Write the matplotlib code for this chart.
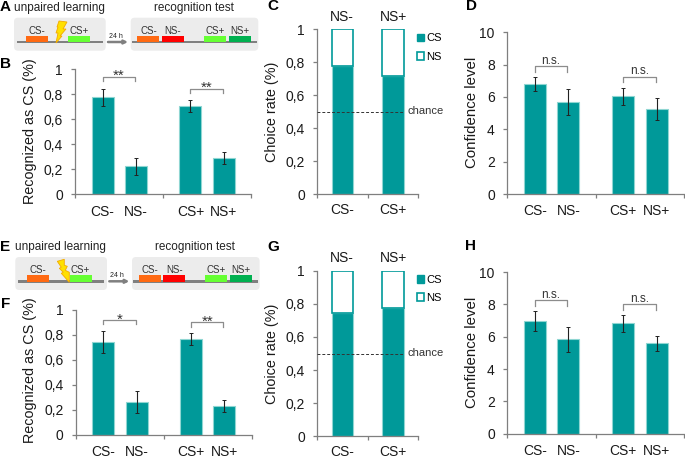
import matplotlib
matplotlib.use("Agg")
import matplotlib.pyplot as plt
from matplotlib.patches import FancyBboxPatch, Rectangle, Polygon, Patch

plt.rcParams['font.family'] = ['Liberation Sans', 'DejaVu Sans']

W, H = 685, 458
TEAL = '#009999'
EDGE = '#8fd6d2'
AXC = '#7f7f7f'

# ---- data ----
cats = ['CS-', 'NS-', 'CS+', 'NS+']
rec_ticks = ['0', '0,2', '0,4', '0,6', '0,8', '1']
conf_ticks = ['0', '2', '4', '6', '8', '10']

b_vals = [0.775, 0.225, 0.71, 0.29]
b_err = [0.066, 0.068, 0.048, 0.048]
d_vals = [6.8, 5.7, 6.05, 5.25]
d_err = [0.42, 0.8, 0.53, 0.69]
f_vals = [0.74, 0.26, 0.765, 0.23]
f_err = [0.088, 0.087, 0.048, 0.05]
h_vals = [6.95, 5.83, 6.83, 5.6]
h_err = [0.62, 0.75, 0.52, 0.47]

choice_bottom = ['CS-', 'CS+']
choice_top = ['NS-', 'NS+']
c_cs = [0.78, 0.715]
g_cs = [0.747, 0.773]
chance = 0.5

b_sig = ['**', '**']
f_sig = ['*', '**']
ns_sig = ['n.s.', 'n.s.']

fig = plt.figure(figsize=(W / 100, H / 100), dpi=100)
ov = fig.add_axes([0, 0, 1, 1], zorder=0)
ov.set_xlim(0, W)
ov.set_ylim(H, 0)
ov.axis('off')


def mk_ax(x0, x1, ytop, y0, xpad=7.5):
    ax = fig.add_axes([x0 / W, 1 - y0 / H, (x1 - x0) / W, (y0 - ytop) / H], zorder=2)
    ax.patch.set_alpha(0)
    for s in ('top', 'right'):
        ax.spines[s].set_visible(False)
    for s in ('left', 'bottom'):
        ax.spines[s].set_color(AXC)
        ax.spines[s].set_linewidth(0.9)
    ax.tick_params(axis='y', length=3, width=0.9, color=AXC, pad=6, labelsize=10, labelcolor='#1a1a1a')
    ax.tick_params(axis='x', which='major', length=3, width=0.9, color=AXC, labelbottom=False)
    ax.tick_params(axis='x', which='minor', length=0, pad=xpad, labelsize=10, labelcolor='#1a1a1a')
    return ax


def grouped(box, vals, errs, ymax, ticks, sig, br_tops, sig_size, sig_off):
    ax = mk_ax(*box)
    pos = [0.31, 0.69, 1.31, 1.69]
    ax.bar(pos, vals, width=0.25, color=TEAL, edgecolor=EDGE, linewidth=0.8)
    ax.errorbar(pos, vals, yerr=errs, fmt='none', ecolor='#222222', elinewidth=0.8, capsize=1.5, capthick=0.7)
    ax.set_xlim(0, 2)
    ax.set_ylim(0, ymax)
    ax.set_yticks([ymax * i / (len(ticks) - 1) for i in range(len(ticks))], ticks)
    ax.set_xticks([0, 1, 2])
    ax.set_xticks(pos, cats, minor=True)
    drop = ymax * 0.035
    for i, top in enumerate(br_tops):
        a, b = pos[2 * i], pos[2 * i + 1] - 0.01
        ax.plot([a, a, b, b], [top - drop, top, top, top - drop], color='#8c8c8c', lw=0.9, clip_on=False)
        ax.text((a + b) / 2, top + ymax * sig_off, sig[i], ha='center', va='center',
                fontsize=sig_size, color='#333333')
    return ax


def stacked(box, cs_vals):
    ax = mk_ax(*box, xpad=6.3)
    pos = [0.2475, 0.75]
    ns_vals = [1 - v for v in cs_vals]
    ax.bar(pos, cs_vals, width=0.21, color=TEAL, edgecolor=EDGE, linewidth=0.8, label='CS')
    ax.bar(pos, ns_vals, bottom=cs_vals, width=0.21, color='white', edgecolor=TEAL, linewidth=1.2, label='NS')
    ax.set_xlim(0, 1)
    ax.set_ylim(0, 1)
    ax.set_yticks([i / 5 for i in range(6)], rec_ticks)
    ax.set_xticks([0, 0.5, 1])
    ax.set_xticks(pos, choice_bottom, minor=True)
    ax.plot([0, 0.86], [chance, chance], color='#333333', lw=0.7, ls=(0, (3, 2)), zorder=5)
    ax.text(0.895, chance + 0.003, 'chance', ha='left', va='center', fontsize=8, color='#333333')
    for p, t in zip(pos, choice_top):
        ax.text(p, 1.0 + 12.7 / (box[3] - box[2]), t, ha='center', va='center', fontsize=10, color='#1a1a1a')
    ax.legend(handles=[Patch(facecolor=TEAL, edgecolor=TEAL, label='CS'),
                       Patch(facecolor='white', edgecolor=TEAL, linewidth=1.2, label='NS')],
              loc='upper left', bbox_to_anchor=(0.985, 0.975), frameon=False, fontsize=8,
              handlelength=0.65, handleheight=0.7, handletextpad=0.2, labelspacing=0.75,
              borderpad=0, borderaxespad=0)
    return ax


def schematic(dx, dy, bolt):
    def box(x0, x1):
        ov.add_patch(FancyBboxPatch((x0 + dx + 3, 17.7 + dy + 3), x1 - x0 - 6, 27, boxstyle='round,pad=3,rounding_size=4',
                                    fc='#ececec', ec='none'))
    box(14, 105.7)
    box(130.7, 258.3)
    ov.add_patch(Rectangle((16.7 + dx, 40.7 + dy), 86, 2.6, fc='#808080', ec='none', zorder=2))
    ov.add_patch(Rectangle((132 + dx, 40.7 + dy), 125, 2.6, fc='#808080', ec='none', zorder=2))
    parts = [(25.7, '#ff6a13', 'CS-', 37), (68.3, '#66ff33', 'CS+', 79),
             (137.4, '#ff6a13', 'CS-', 148.5), (162, '#ff0000', 'NS-', 173),
             (204, '#66ff33', 'CS+', 215), (229, '#00b050', 'NS+', 240)]
    for x, c, t, tx in parts:
        ov.add_patch(Rectangle((x + dx, 36 + dy), 22, 6.3, fc=c, ec='none', zorder=3))
        ov.text(tx + dx, 30.5 + dy, t, ha='center', va='center', fontsize=7, color='#333333')
    ov.add_patch(Polygon([(x + dx, y + dy) for x, y in bolt], closed=True, fc='#ffe000', ec='#f2a900', lw=0.6, zorder=4))
    ov.annotate('', xy=(128 + dx, 42 + dy), xytext=(108 + dx, 42 + dy),
                arrowprops=dict(arrowstyle='-|>', color='#808080', lw=1.8, mutation_scale=5, shrinkA=0, shrinkB=0))
    ov.text(116 + dx, 36.5 + dy, '24 h', ha='center', va='center', fontsize=5, color='#222222')
    ov.text(14 + dx, 7.5 + dy, 'unpaired learning', ha='left', va='center', fontsize=8.5, color='#222222')
    ov.text(193.5 + dx, 7.5 + dy, 'recognition test', ha='center', va='center', fontsize=8.5, color='#222222')


bolt_a = [(59, 21), (67, 22), (63, 29), (66, 29), (60, 36), (62, 36), (56, 43), (58, 33), (56, 33), (58, 27), (57, 27)]
bolt_e = [(56, 22), (63, 20), (63, 26), (66, 27), (64, 31), (68, 33), (68, 43), (60, 34), (62, 33), (58, 29), (60, 28)]
schematic(0, 0, bolt_a)
schematic(1.3, 239.3, bolt_e)

grouped((75.3, 251, 69.3, 194.3), b_vals, b_err, 1, rec_ticks, b_sig, [0.94, 0.845], 10.8, 0.006)
stacked((317.3, 418.3, 29.3, 194.3), c_cs)
grouped((507.3, 684.3, 32.3, 194), d_vals, d_err, 10, conf_ticks, ns_sig, [7.9, 7.26], 8.5, 0.035)
grouped((76, 251.5, 309.7, 434.7), f_vals, f_err, 1, rec_ticks, f_sig, [0.917, 0.9], 10.8, 0.006)
stacked((317.3, 418.3, 270.7, 436.3), g_cs)
grouped((507.3, 684.3, 272, 433.7), h_vals, h_err, 10, conf_ticks, ns_sig, [8.25, 8.0], 8.5, 0.035)

for t, x, y, s in [('Recognized as CS (%)', 30, 131, 10.4), ('Choice rate (%)', 272, 112, 10.4),
                   ('Confidence level', 472, 112, 10.8), ('Recognized as CS (%)', 30, 370, 10.4),
                   ('Choice rate (%)', 272, 354, 10.4), ('Confidence level', 472, 352, 10.8)]:
    ov.text(x, y, t, rotation=90, ha='center', va='center', fontsize=s, color='#1a1a1a')

for t, x, y in [('A', 5.5, 7), ('B', 5.5, 64), ('C', 273, 6), ('D', 472, 6),
                ('E', 5.5, 247), ('F', 5.5, 304), ('G', 273, 247), ('H', 471, 246)]:
    ov.text(x, y, t, ha='center', va='center', fontsize=11, fontweight='bold', color='black')

fig.savefig('out.png', dpi=100)
